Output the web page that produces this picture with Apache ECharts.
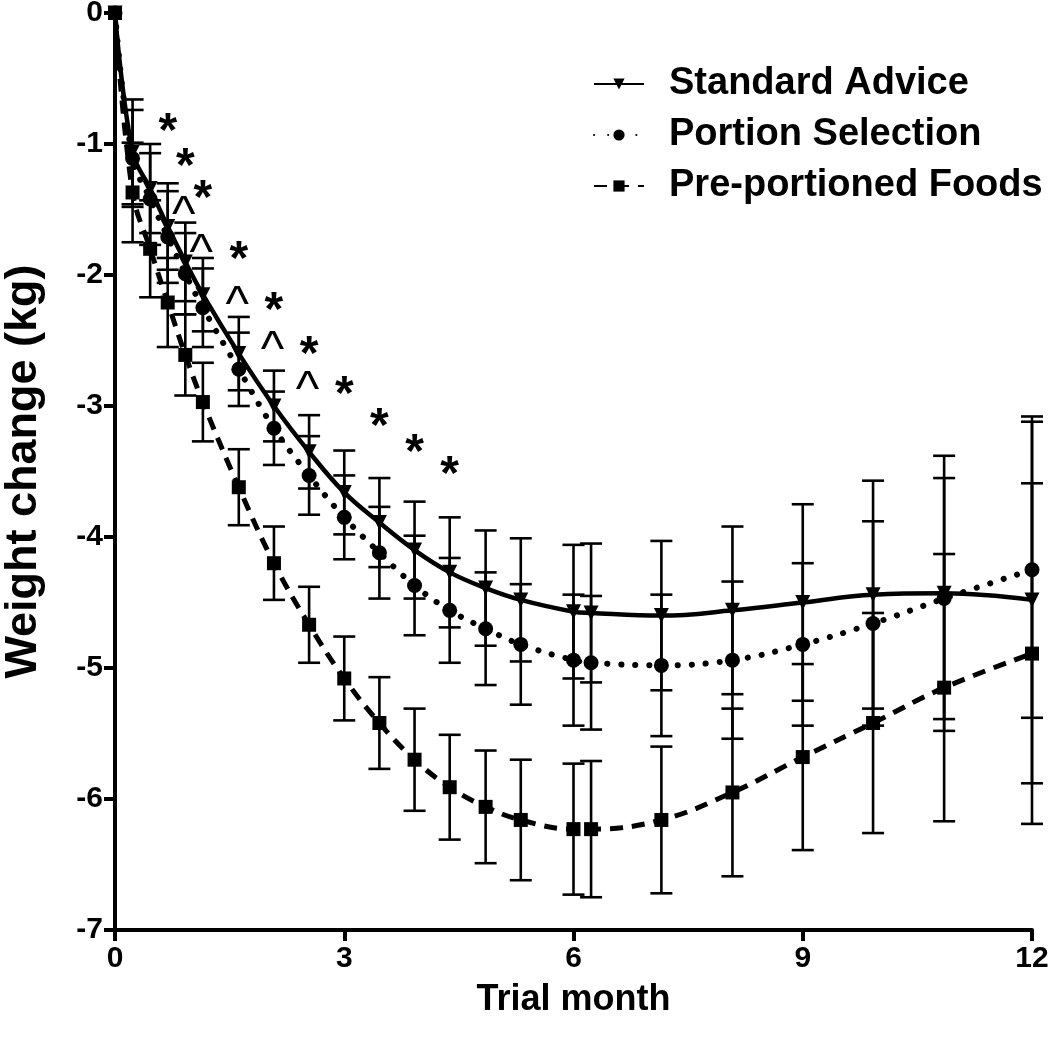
<!DOCTYPE html>
<html>
<head>
<meta charset="utf-8">
<script src="https://cdn.jsdelivr.net/npm/echarts@6/dist/echarts.min.js"></script>
<style>
html,body{margin:0;padding:0;background:#fff;}
#chart{width:1050px;height:1046px;}
</style>
</head>
<body>
<div id="chart"></div>
<script>
// Time points (months; measured at weeks 0,1,2,3,4,5,7,...,52)
const months = [0, 0.23, 0.46, 0.69, 0.92, 1.15, 1.62, 2.08, 2.54, 3.0, 3.46, 3.92, 4.38, 4.85, 5.31, 6.0, 6.23, 7.15, 8.08, 9.0, 9.92, 10.85, 12.0];

const seriesNames = ['Standard Advice', 'Portion Selection', 'Pre-portioned Foods'];

const standardMean = [0, -1.06, -1.34, -1.63, -1.90, -2.15, -2.60, -3.00, -3.35, -3.66, -3.89, -4.10, -4.27, -4.39, -4.48, -4.57, -4.58, -4.60, -4.56, -4.50, -4.44, -4.43, -4.48];
const standardSE   = [0, 0.40, 0.34, 0.33, 0.30, 0.28, 0.28, 0.27, 0.28, 0.32, 0.34, 0.37, 0.42, 0.44, 0.47, 0.51, 0.53, 0.57, 0.64, 0.75, 0.87, 1.05, 1.40];

const portionMean = [0, -1.11, -1.42, -1.71, -1.99, -2.25, -2.72, -3.17, -3.53, -3.85, -4.12, -4.37, -4.56, -4.70, -4.82, -4.94, -4.96, -4.98, -4.94, -4.82, -4.66, -4.47, -4.25];
const portionSE   = [0, 0.37, 0.35, 0.35, 0.31, 0.30, 0.28, 0.28, 0.30, 0.32, 0.35, 0.38, 0.40, 0.43, 0.46, 0.50, 0.51, 0.54, 0.60, 0.62, 0.78, 0.92, 1.13];

const preMean = [0, -1.37, -1.80, -2.21, -2.61, -2.97, -3.62, -4.20, -4.67, -5.08, -5.42, -5.70, -5.91, -6.06, -6.16, -6.23, -6.23, -6.16, -5.95, -5.68, -5.42, -5.15, -4.89];
const preSE   = [0, 0.38, 0.37, 0.34, 0.31, 0.30, 0.29, 0.28, 0.29, 0.32, 0.35, 0.39, 0.40, 0.43, 0.46, 0.50, 0.52, 0.56, 0.64, 0.71, 0.84, 1.02, 1.30];

// Significance markers
const starX  = [0.69, 0.92, 1.15, 1.62, 2.08, 2.54, 3.0, 3.46, 3.92, 4.38];
const starY  = [-0.83, -1.10, -1.34, -1.81, -2.20, -2.53, -2.84, -3.08, -3.28, -3.45];
const caretX = [0.90, 1.13, 1.60, 2.06, 2.52];
const caretY = [-1.48, -1.77, -2.17, -2.51, -2.82];

const xTicks = [0, 3, 6, 9, 12];

const FONT = "'Liberation Sans', Arial, Helvetica, sans-serif";

function pairs(xs, ys) { return xs.map((x, i) => [x, ys[i]]); }
function errData(means, ses) {
  const out = [];
  months.forEach((m, i) => { if (ses[i] > 0) out.push([m, means[i], ses[i]]); });
  return out;
}
function errSeries(means, ses) {
  return {
    type: 'custom',
    silent: true,
    z: 3,
    data: errData(means, ses),
    renderItem: function (params, api) {
      const x = api.value(0), y = api.value(1), e = api.value(2);
      const t = api.coord([x, y + e]);
      const b = api.coord([x, y - e]);
      const hw = 11;
      const st = { stroke: '#000', lineWidth: 2.6 };
      return {
        type: 'group',
        children: [
          { type: 'line', shape: { x1: t[0], y1: t[1], x2: b[0], y2: b[1] }, style: st },
          { type: 'line', shape: { x1: t[0] - hw, y1: t[1], x2: t[0] + hw, y2: t[1] }, style: st },
          { type: 'line', shape: { x1: b[0] - hw, y1: b[1], x2: b[0] + hw, y2: b[1] }, style: st }
        ]
      };
    }
  };
}

const chart = echarts.init(document.getElementById('chart'), null, { renderer: 'canvas' });

const option = {
  animation: false,
  backgroundColor: '#fff',
  textStyle: { fontFamily: FONT },
  grid: { left: 115, right: 18, top: 13, bottom: 116, containLabel: false, outerBoundsMode: 'none' },
  legend: {
    data: seriesNames,
    orient: 'vertical',
    left: 588,
    top: 60,
    itemGap: 13,
    itemWidth: 50,
    itemHeight: 14,
    textStyle: { fontFamily: FONT, fontSize: 38, fontWeight: 'bold', color: '#000', padding: [0, 0, 0, 20] },
    selectedMode: false
  },
  xAxis: {
    type: 'value',
    min: 0, max: 12, interval: 3,
    name: 'Trial month',
    nameLocation: 'middle',
    nameGap: 52,
    nameTextStyle: { fontFamily: FONT, fontSize: 36, fontWeight: 'bold', color: '#000' },
    axisLine: { show: true, onZero: false, lineStyle: { color: '#000', width: 4 } },
    axisTick: { show: true, length: 11, lineStyle: { color: '#000', width: 4 } },
    axisLabel: { fontFamily: FONT, fontSize: 30, fontWeight: 'bold', color: '#000', margin: 14,
      formatter: function (v) { return xTicks.indexOf(v) >= 0 ? String(v) : ''; } },
    splitLine: { show: false }
  },
  yAxis: {
    type: 'value',
    min: -7, max: 0, interval: 1,
    name: 'Weight change (kg)',
    nameLocation: 'middle',
    nameGap: 69,
    nameRotate: 90,
    nameTextStyle: { fontFamily: FONT, fontSize: 45, fontWeight: 'bold', color: '#000' },
    axisLine: { show: true, onZero: false, lineStyle: { color: '#000', width: 4 } },
    axisTick: { show: true, length: 11, lineStyle: { color: '#000', width: 4 } },
    axisLabel: { fontFamily: FONT, fontSize: 30, fontWeight: 'bold', color: '#000', margin: 12 },
    splitLine: { show: false }
  },
  series: [
    errSeries(standardMean, standardSE),
    errSeries(portionMean, portionSE),
    errSeries(preMean, preSE),
    {
      name: seriesNames[0], type: 'line', smooth: 0.4, z: 5,
      data: pairs(months, standardMean),
      symbol: 'triangle', symbolRotate: 180, symbolSize: 15,
      itemStyle: { color: '#000' },
      lineStyle: { color: '#000', width: 4.5, type: 'solid' }
    },
    {
      name: seriesNames[1], type: 'line', smooth: 0.4, z: 6,
      data: pairs(months, portionMean),
      symbol: 'circle', symbolSize: 15,
      itemStyle: { color: '#000' },
      lineStyle: { color: '#000', width: 6, type: [0.1, 14], cap: 'round' }
    },
    {
      name: seriesNames[2], type: 'line', smooth: 0.4, z: 7,
      data: pairs(months, preMean),
      symbol: 'rect', symbolSize: 14,
      itemStyle: { color: '#000' },
      lineStyle: { color: '#000', width: 5, type: [13, 9] }
    },
    {
      type: 'scatter', silent: true, z: 8,
      data: pairs(starX, starY),
      symbol: 'circle', symbolSize: 1,
      itemStyle: { color: 'rgba(0,0,0,0)', opacity: 1 },
      label: { show: true, position: 'inside', formatter: '*', fontFamily: FONT, fontSize: 48, fontWeight: 'bold', color: '#000', opacity: 1, offset: [0, 11] }
    },
    {
      type: 'scatter', silent: true, z: 8,
      data: pairs(caretX, caretY),
      symbol: 'circle', symbolSize: 1,
      itemStyle: { color: 'rgba(0,0,0,0)', opacity: 1 },
      label: { show: true, position: 'inside', formatter: '^', fontFamily: FONT, fontSize: 50, fontWeight: 'normal', color: '#000', opacity: 1, offset: [0, 9] }
    }
  ]
};

chart.setOption(option);
</script>
</body>
</html>
